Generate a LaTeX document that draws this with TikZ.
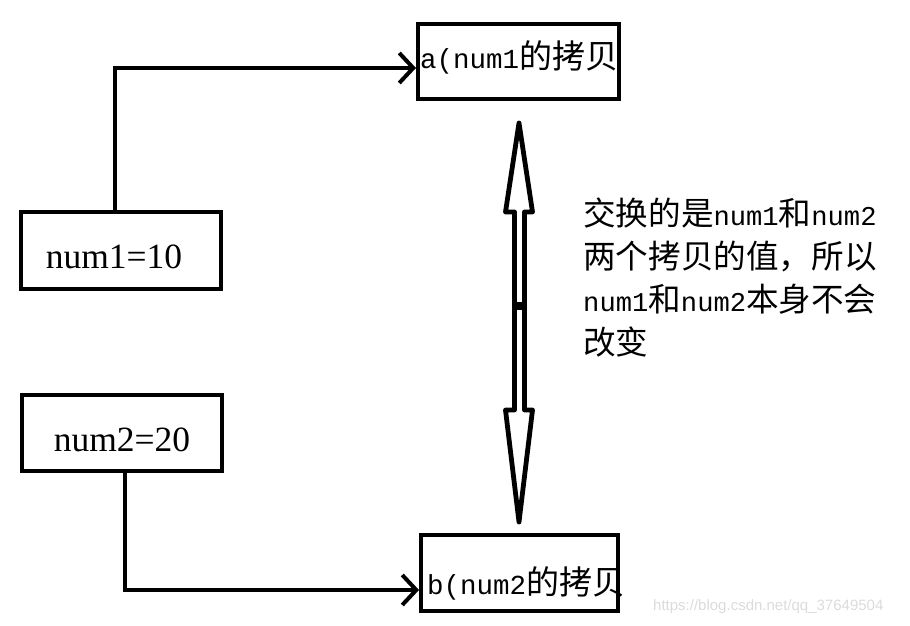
\documentclass[tikz,border=0pt]{standalone}
\usepackage{fontspec}
\setmainfont{Noto Sans CJK SC}
\newfontfamily\latf{Liberation Mono}[Scale=0.833]
\newfontfamily\serf{Liberation Serif}
\newfontfamily\wmf{Liberation Sans}
\usetikzlibrary{arrows.meta}
\begin{document}
\begin{tikzpicture}[x=1pt,y=1pt,
  box/.style={draw, line width=4pt, inner sep=0pt},
  conn/.style={line width=4pt, -{Straight Barb[length=14pt,width=30pt,line width=4pt]}},
  valtext/.style={font=\serf\fontsize{35.5}{40}\selectfont, inner sep=0pt},
  cptext/.style={anchor=west, inner sep=0pt, font=\fontsize{33}{40}\selectfont},
]
\useasboundingbox (0,0) rectangle (910,626);
% boxes
\node[box, minimum width=200pt, minimum height=77pt] (n1) at (121,375.5) {};
\node[box, minimum width=200pt, minimum height=76pt] (n2) at (122,193) {};
\node[box, minimum width=201pt, minimum height=75pt] (a) at (518.5,564.5) {};
\node[box, minimum width=197pt, minimum height=76pt] (b) at (519.5,53) {};
% texts
\node[valtext] (t1) at (114,369) {num1=10};
\node[valtext] (t2) at (122,186) {num2=20};
\node[cptext] (ta) at (420,569) {{\latf a(num1}的拷贝};
\node[cptext] (tb) at (427,43) {{\latf b(num2}的拷贝};
\node[anchor=north west, inner sep=0pt, align=left, font=\fontsize{32.6}{43}\selectfont] (note) at (583,428)
  {交换的是{\latf num1}和{\latf num2}\\两个拷贝的值，所以\\{\latf num1}和{\latf num2}本身不会\\改变};
\node[anchor=west, inner sep=0pt, text=gray!28, font=\wmf\fontsize{15}{18}\selectfont] (wm) at (653,19) {https://blog.csdn.net/qq\_37649504};
% connectors
\draw[conn] ([xshift=-6pt]n1.north) |- ([yshift=-6.5pt]a.west);
\draw[conn] ([xshift=3pt]n2.south) |- ([yshift=-17pt]b.west);
% double block arrow
\draw[line width=4.8pt, line join=round]
  (519,503) -- (532.5,414) -- (524.5,414) -- (524.5,216) -- (532.5,216) -- (519,104)
  -- (505.5,216) -- (514.5,216) -- (514.5,414) -- (505.5,414) -- cycle;
\draw[line width=8pt] (514.5,320) -- (524.5,320);
\end{tikzpicture}
\end{document}
